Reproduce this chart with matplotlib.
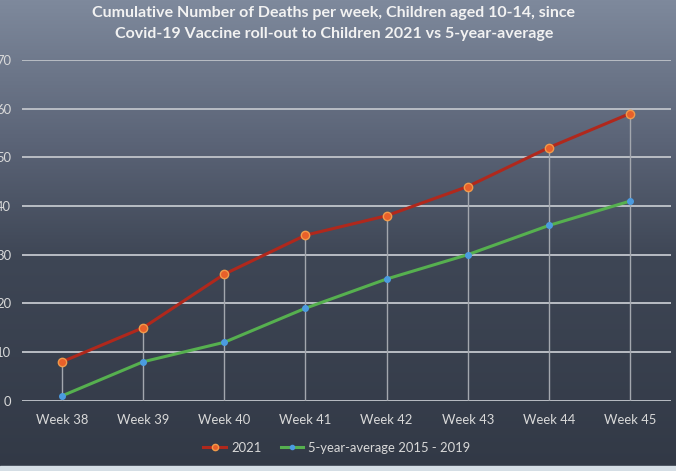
import numpy as np
import matplotlib
matplotlib.use("Agg")
import matplotlib.pyplot as plt
from matplotlib.colors import LinearSegmentedColormap

# data
weeks = ["Week 38", "Week 39", "Week 40", "Week 41", "Week 42", "Week 43", "Week 44", "Week 45"]
deaths_2021 = [8, 15, 26, 34, 38, 44, 52, 59]
deaths_avg = [1, 8, 12, 19, 25, 30, 36, 41]
yticks = [0, 10, 20, 30, 40, 50, 60, 70]

plt.rcParams["font.family"] = ["Lato", "DejaVu Sans"]

W, H = 676, 471
fig = plt.figure(figsize=(W / 100, H / 100), dpi=100)

# background gradient (light slate at the top, dark at the bottom)
bg = fig.add_axes([0, 0, 1, 1], zorder=-10)
bg_cmap = LinearSegmentedColormap.from_list(
    "bg", [(0.0, "#7e899c"), (0.3, "#5b6477"), (0.55, "#3e4655"), (1.0, "#323946")])
grad = np.linspace(0, 1, 256).reshape(-1, 1)
bg.imshow(grad, aspect="auto", cmap=bg_cmap, extent=[0, 1, 0, 1], origin="upper")
bg.axhspan(0, 5 / H, color="#d5dee5")
bg.set_xlim(0, 1)
bg.set_ylim(0, 1)
bg.axis("off")

ax = fig.add_axes([21.5 / W, (H - 400.7) / H, 649 / W, 340.7 / H])
ax.set_facecolor("none")
x = np.arange(len(weeks))

# drop lines
tops = np.maximum(deaths_2021, deaths_avg)
ax.vlines(x, 0, tops, color="#a3a7ae", linewidth=1.0, zorder=1)

ax.plot(x, deaths_2021, color="#b0281c", linewidth=2.2, marker="o", markersize=6,
        markerfacecolor="#e8602a", markeredgecolor="#f09a4a", markeredgewidth=1.0,
        label="2021", zorder=3, clip_on=False)
ax.plot(x, deaths_avg, color="#56b04f", linewidth=2.2, marker="o", markersize=4,
        markerfacecolor="#4b9be0", markeredgecolor="#4b9be0",
        label="5-year-average 2015 - 2019", zorder=3, clip_on=False)

ax.set_xlim(-0.5, len(weeks) - 0.5)
ax.set_ylim(0, 70)
ax.set_yticks(yticks)
ax.set_xticks(x)
ax.set_xticklabels(weeks)
ax.grid(axis="y", color="#b9bdc4", linewidth=1.4, zorder=0)
ax.set_axisbelow(True)
for s in ax.spines.values():
    s.set_visible(False)
ax.tick_params(axis="both", length=0, colors="#d9d9d9", labelsize=9.4)
ax.tick_params(axis="y", pad=7.5)
ax.tick_params(axis="x", pad=9.5)

fig.text(334 / W, 1 - 13 / H, "Cumulative Number of Deaths per week, Children aged 10-14, since",
         ha="center", va="center", color="#f2f2f2", fontsize=11.5, fontweight="bold")
fig.text(334 / W, 1 - 34 / H, "Covid-19 Vaccine roll-out to Children 2021 vs 5-year-average",
         ha="center", va="center", color="#f2f2f2", fontsize=11.5, fontweight="bold")

fig.legend(loc="center", bbox_to_anchor=(337 / W, 1 - 448 / H), ncol=2, frameon=False,
           fontsize=9.4, labelcolor="#d9d9d9", handlelength=1.7, handletextpad=0.4,
           columnspacing=1.5, markerscale=0.75)

fig.savefig("out.png", dpi=100)
